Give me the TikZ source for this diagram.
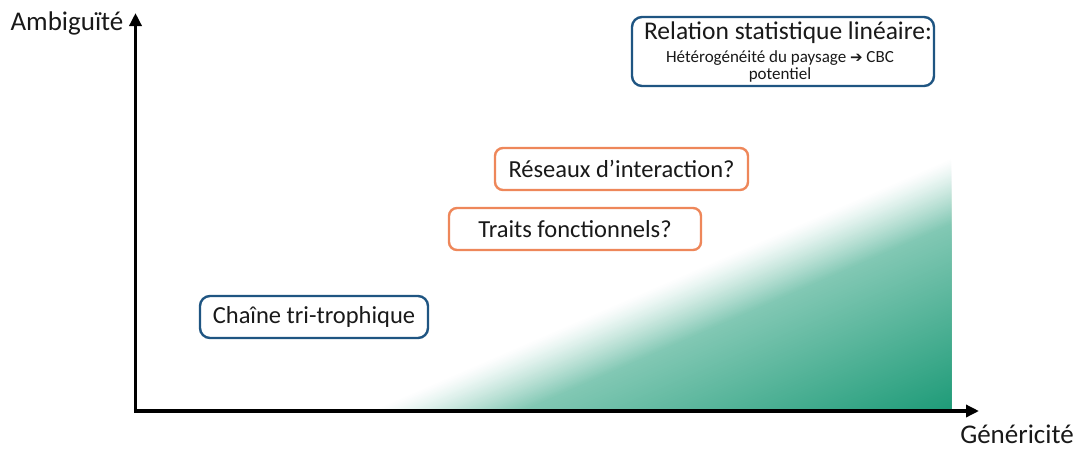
\documentclass[tikz,border=0pt]{standalone}
\usepackage{fontspec}
\setmainfont{Carlito}
\newfontfamily\dejavu{DejaVu Sans}
\usetikzlibrary{calc,arrows.meta}
\definecolor{gr}{RGB}{30,155,120}
\definecolor{grmid}{RGB}{130,200,180}
\definecolor{bluebd}{RGB}{31,85,130}
\definecolor{orbd}{RGB}{238,135,90}
\definecolor{txt}{RGB}{25,25,25}
\tikzset{
  bluebox/.style={draw=bluebd, line width=2.4pt, rounded corners=10pt, fill=white, text=txt, align=center, inner sep=0pt},
  orbox/.style={draw=orbd, line width=2.4pt, rounded corners=8pt, fill=white, text=txt, inner sep=0pt, minimum height=42pt, font=\fontsize{24.5}{28}\selectfont},
  axis/.style={line width=3.5pt, -{Triangle[length=13pt,width=12pt]}},
  axlabel/.style={text=txt, font=\fontsize{27}{30}\selectfont, inner sep=0pt}
}
\begin{document}
\begin{tikzpicture}[x=1pt,y=-1pt]
\useasboundingbox (0,0) rectangle (1081,450);
% gradient triangle
\coordinate (A) at (370,411);
\coordinate (B) at (951,158);
\coordinate (C) at (951,411);
% first part: white -> mid over t in [0,0.26]
\foreach \i in {0,...,40}{
  \pgfmathsetmacro\s{1-0.26*\i/40}
  \pgfmathsetmacro\p{100*(\i/40)^1.2}
  \fill[grmid!\p!white] ($(C)!\s!(A)$) -- ($(C)!\s!(B)$) -- (C) -- cycle;
}
% second part: mid -> dark over t in [0.26,1]
\foreach \i in {1,...,100}{
  \pgfmathsetmacro\s{0.74-0.74*\i/100}
  \pgfmathsetmacro\p{100*\i/100}
  \fill[gr!\p!grmid] ($(C)!\s!(A)$) -- ($(C)!\s!(B)$) -- (C) -- cycle;
}
% axes
\coordinate (O) at (135.5,411);
\coordinate (ytip) at (135.5,13);
\coordinate (xtip) at (979,411);
\draw[axis] ([yshift=1.75pt]O) -- (ytip);
\draw[axis] ([xshift=-1.75pt]O) -- (xtip);
\node[axlabel] (amb) at (67,23) {Ambiguïté};
\node[axlabel] (gen) at (1017,434) {Généricité};
% boxes
\node[bluebox, minimum width=302pt, minimum height=69pt] (rel) at (783,51.5) {};
\node[text=txt, inner sep=0pt, font=\fontsize{25.5}{29}\selectfont] (relt) at (788,33) {Relation statistique linéaire:};
\node[text=txt, inner sep=0pt, align=center, font=\fontsize{17}{17}\selectfont] (rels) at (780,66) {Hétérogénéité du paysage {\dejavu\fontsize{15}{17}\selectfont ➔} CBC\\potentiel};
\node[orbox, minimum width=253pt] (res) at (621.5,169) {Réseaux d’interaction?};
\node[orbox, minimum width=252pt] (tra) at (575,229) {Traits fonctionnels?};
\node[bluebox, minimum width=228pt, minimum height=42pt, font=\fontsize{24.5}{28}\selectfont] (cha) at (314,317) {Chaîne tri-trophique};
\end{tikzpicture}
\end{document}
